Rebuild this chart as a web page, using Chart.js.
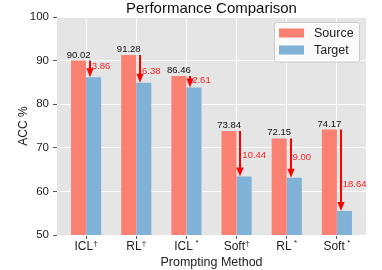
<!DOCTYPE html>
<html>
<head>
<meta charset="utf-8">
<script src="https://cdn.jsdelivr.net/npm/chart.js@4.4.1/dist/chart.umd.min.js"></script>
<style>
  html, body { margin: 0; padding: 0; background: #ffffff; }
  #wrap { width: 382px; height: 270px; position: relative; }
</style>
</head>
<body>
<div id="wrap"><canvas id="c"></canvas></div>
<script>
// ---- data ----
const categories = ['ICL†', 'RL†', 'ICL*', 'Soft†', 'RL*', 'Soft*'];
const sourceValues = [90.02, 91.28, 86.46, 73.84, 72.15, 74.17];
const targetValues = [86.16, 84.90, 83.85, 63.40, 63.15, 55.53];
const yTicks = [50, 60, 70, 80, 90, 100];
const seriesNames = ['Source', 'Target'];

// ---- styles / positions ----
const FONT = '"Liberation Sans", Arial, Helvetica, sans-serif';
const COLORS = ['#fa8072', '#80b1d6'];
const dropLabelFrac = [0.33, 0.6, 0.38, 0.53, 0.49, 0.67];

Chart.defaults.font.family = FONT;

const overlay = {
  id: 'overlay',
  beforeDraw(chart) {
    const {ctx, chartArea: a} = chart;
    ctx.save();
    ctx.fillStyle = '#e5e5e5';
    ctx.fillRect(a.left, a.top, a.right - a.left, a.bottom - a.top);
    ctx.restore();
  },
  afterDatasetsDraw(chart) {
    const {ctx} = chart;
    const xs = chart.scales.x, ys = chart.scales.y;
    ctx.save();
    for (let i = 0; i < categories.length; i++) {
      const s = sourceValues[i], t = targetValues[i];
      const yS = ys.getPixelForValue(s), yT = ys.getPixelForValue(t);
      // value label above source bar
      ctx.fillStyle = '#111';
      ctx.font = '9.5px ' + FONT;
      ctx.textAlign = 'center';
      ctx.textBaseline = 'alphabetic';
      ctx.fillText(s.toFixed(2), xs.getPixelForValue(i - 0.15), yS - 3);
      // arrow
      const ax = Math.round(xs.getPixelForValue(i + 0.075));
      ctx.strokeStyle = '#ff0000';
      ctx.fillStyle = '#ff0000';
      ctx.lineWidth = 2;
      ctx.beginPath();
      ctx.moveTo(ax, yS);
      ctx.lineTo(ax, yT - 7);
      ctx.stroke();
      ctx.beginPath();
      ctx.moveTo(ax - 3.6, yT - 9);
      ctx.lineTo(ax + 3.6, yT - 9);
      ctx.lineTo(ax, yT);
      ctx.closePath();
      ctx.fill();
      // drop label
      ctx.font = '9.5px ' + FONT;
      ctx.fillStyle = '#ff2020';
      ctx.textAlign = 'left';
      ctx.textBaseline = 'middle';
      ctx.fillText((s - t).toFixed(2), xs.getPixelForValue(i + 0.115), yS + dropLabelFrac[i] * (yT - yS));
    }
    ctx.restore();
  },
  afterDraw(chart) {
    const {ctx, chartArea: a} = chart;
    const xs = chart.scales.x;
    const cx = (a.left + a.right) / 2;
    ctx.save();
    // title
    ctx.fillStyle = '#111';
    ctx.font = '15px ' + FONT;
    ctx.textAlign = 'center';
    ctx.textBaseline = 'alphabetic';
    ctx.fillText('Performance Comparison', cx, 12.5);
    // x title
    ctx.fillStyle = '#222';
    ctx.font = '12.5px ' + FONT;
    ctx.fillText('Prompting Method', cx, 265.5);
    // y title
    ctx.save();
    ctx.translate(26.5, (a.top + a.bottom) / 2);
    ctx.rotate(-Math.PI / 2);
    ctx.font = '12px ' + FONT;
    ctx.textAlign = 'center';
    ctx.textBaseline = 'alphabetic';
    ctx.fillText('ACC %', 0, 0);
    ctx.restore();
    // x tick labels with superscripts
    for (let i = 0; i < categories.length; i++) {
      const lab = categories[i];
      const base = lab.slice(0, -1), sup = lab.slice(-1);
      ctx.font = '12px ' + FONT;
      const wb = ctx.measureText(base).width;
      ctx.font = '8px ' + FONT;
      const ws = ctx.measureText(sup).width;
      const gap = sup === '*' ? 2.5 : 0;
      const total = wb + gap + ws;
      const x0 = xs.getPixelForValue(i) - total / 2;
      ctx.textAlign = 'left';
      ctx.fillStyle = '#222';
      ctx.font = '12px ' + FONT;
      ctx.fillText(base, x0, 250);
      ctx.font = '8px ' + FONT;
      ctx.fillText(sup, x0 + wb + gap, sup === '*' ? 244.5 : 245.5);
    }
    // legend
    const lx = 274.5, ly = 22.5, lw = 85, lh = 39.5;
    ctx.fillStyle = 'rgba(255,255,255,0.8)';
    ctx.strokeStyle = '#cccccc';
    ctx.lineWidth = 1;
    ctx.beginPath();
    if (ctx.roundRect) ctx.roundRect(lx, ly, lw, lh, 2); else ctx.rect(lx, ly, lw, lh);
    ctx.fill();
    ctx.stroke();
    const rows = [33, 50];
    for (let k = 0; k < seriesNames.length; k++) {
      ctx.fillStyle = COLORS[k];
      ctx.fillRect(279, rows[k] - 4.5, 25, 9);
      ctx.fillStyle = '#222';
      ctx.font = '12.5px ' + FONT;
      ctx.textAlign = 'left';
      ctx.textBaseline = 'middle';
      ctx.fillText(seriesNames[k], 314, rows[k] + 0.5);
    }
    ctx.restore();
  }
};

new Chart(document.getElementById('c'), {
  type: 'bar',
  data: {
    datasets: [
      {
        label: seriesNames[0],
        data: sourceValues.map((v, i) => ({x: i, y: v})),
        backgroundColor: COLORS[0],
        borderWidth: 0,
        categoryPercentage: 0.6,
        barPercentage: 1.0
      },
      {
        label: seriesNames[1],
        data: targetValues.map((v, i) => ({x: i, y: v})),
        backgroundColor: COLORS[1],
        borderWidth: 0,
        categoryPercentage: 0.6,
        barPercentage: 1.0
      }
    ]
  },
  options: {
    responsive: true,
    maintainAspectRatio: false,
    devicePixelRatio: 1,
    animation: false,
    layout: { padding: { left: 0, right: 16, top: 17, bottom: 0 } },
    plugins: { legend: { display: false }, title: { display: false }, tooltip: { enabled: false } },
    scales: {
      x: {
        type: 'linear',
        offset: false,
        min: -0.58,
        max: 5.58,
        bounds: 'data',
        afterBuildTicks(scale) { scale.ticks = categories.map((_, i) => ({value: i})); },
        afterFit(scale) { scale.height = 35; },
        ticks: { color: 'rgba(0,0,0,0)', font: { size: 12 }, callback: (v) => categories[v] || '' },
        grid: { offset: false, color: '#ffffff', lineWidth: 1, tickLength: 4, tickColor: '#555555', drawTicks: true },
        border: { display: false }
      },
      y: {
        min: 50,
        max: 100,
        afterBuildTicks(scale) { scale.ticks = yTicks.map(v => ({value: v})); },
        afterFit(scale) { scale.width = 57; },
        ticks: { color: '#222', font: { size: 11.5 }, padding: 4 },
        grid: { color: '#ffffff', lineWidth: 1, tickLength: 4, tickColor: '#555555', drawTicks: true },
        border: { display: false }
      }
    }
  },
  plugins: [overlay]
});
</script>
</body>
</html>
